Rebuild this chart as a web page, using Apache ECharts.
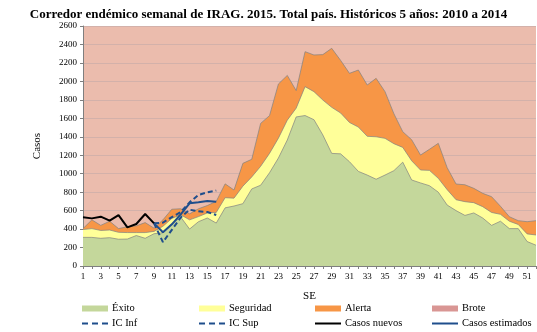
<!DOCTYPE html>
<html>
<head>
<meta charset="utf-8">
<script src="https://cdn.jsdelivr.net/npm/echarts@6/dist/echarts.min.js"></script>
<style>
  html, body { margin: 0; padding: 0; background: #fff; }
  #chart { width: 537px; height: 332px; }
</style>
</head>
<body>
<div id="chart"></div>
<script>
// Epidemiological weeks (SE)
const weeks = [1,2,3,4,5,6,7,8,9,10,11,12,13,14,15,16,17,18,19,20,21,22,23,24,25,26,
               27,28,29,30,31,32,33,34,35,36,37,38,39,40,41,42,43,44,45,46,47,48,49,50,51,52];

// Corridor bands (upper edge of each zone, cases)
const exito = [310,310,300,307,290,292,330,300,350,360,455,530,400,480,520,465,630,650,675,835,
               875,1010,1170,1365,1615,1630,1585,1420,1220,1215,1130,1025,985,940,985,1033,1125,932,
               900,870,800,660,600,548,575,520,440,485,405,405,265,225];
const seguridad = [395,405,385,390,365,362,362,362,375,430,515,555,500,535,575,580,740,735,865,965,
                   1080,1220,1385,1580,1710,1943,1889,1798,1719,1658,1555,1505,1405,1400,1383,1325,1285,1140,
                   1040,1036,950,827,718,697,686,643,580,560,485,450,348,336];
const alerta = [405,500,440,485,405,425,435,470,410,500,615,620,565,620,655,700,890,823,1112,1156,
                1545,1629,1972,2065,1900,2322,2286,2290,2358,2228,2087,2123,1961,2033,1889,1650,1455,1368,
                1202,1264,1329,1065,888,880,841,787,751,647,534,491,480,491];
const brote = [2600,2600,2600,2600,2600,2600,2600,2600,2600,2600,2600,2600,2600,2600,2600,2600,2600,2600,
               2600,2600,2600,2600,2600,2600,2600,2600,2600,2600,2600,2600,2600,2600,2600,2600,2600,2600,
               2600,2600,2600,2600,2600,2600,2600,2600,2600,2600,2600,2600,2600,2600,2600,2600];

// 2015 observed and estimated cases
const casosNuevos = [527,516,534,491,552,419,455,563,462];
const casosEstimados = [null,null,null,null,null,null,null,null,462,365,451,560,679,690,704,697];
const icInf = [null,null,null,null,null,null,null,null,462,258,392,525,610,592,585,552];
const icSup = [null,null,null,null,null,null,null,null,462,470,530,585,690,770,798,818];

const yTicks = { min: 0, max: 2600, interval: 200 };

const C = {
  exito: '#c4d79b', seguridad: '#ffff99', alerta: '#f79646',
  brote: '#ebbcad', broteKey: '#d99694', navy: '#1f4e8c', edge: 'rgba(130,130,130,0.7)'
};
const serif = '"Liberation Serif", "DejaVu Serif", serif';

function band(name, data, color, z) {
  return {
    name, type: 'line', data, symbol: 'none', z,
    itemStyle: { color },
    lineStyle: { color: C.edge, width: 1 },
    areaStyle: { color, opacity: 1 },
    emphasis: { disabled: true }
  };
}
function trend(name, data, color, dashed) {
  return {
    name, type: 'line', data, symbol: 'none', z: 10, connectNulls: false,
    itemStyle: { color },
    lineStyle: { color, width: 2, type: dashed ? [5, 3] : 'solid' },
    emphasis: { disabled: true }
  };
}

// Legend glyphs: filled band swatch, solid stroke, dashed stroke
const SOLID = 'path://M0,0H26V2H0Z';
const DASHED = 'path://M0,0H6V2H0Z M10,0H16V2H10Z M20,0H26V2H20Z';

// One legend block per entry, laid out on a 4 x 2 grid
function key(item, left, top, h) {
  return {
    data: [item], left, top, itemWidth: 26, itemHeight: h, selectedMode: false,
    padding: 0, itemGap: 4,
    textStyle: { fontFamily: serif, fontSize: 10.5, color: '#000', padding: [0, 0, 0, -1] }
  };
}
const swatch = (name, color) => ({ name, icon: 'rect', itemStyle: { color, borderWidth: 0 } });
const stroke = (name, color, icon) => ({ name, icon, itemStyle: { color, borderWidth: 0 } });

const chart = echarts.init(document.getElementById('chart'), null, { renderer: 'canvas' });
chart.setOption({
  animation: false,
  backgroundColor: '#fff',
  title: {
    text: 'Corredor endémico semanal de IRAG. 2015. Total país. Históricos 5 años: 2010 a 2014',
    left: 'center', top: 3,
    textStyle: { fontFamily: serif, fontSize: 13, fontWeight: 'bold', color: '#000' }
  },
  grid: { left: 83, right: 1, top: 26, bottom: 66, containLabel: false },
  legend: [
    key(swatch('Éxito', C.exito), 82, 303, 6),
    key(swatch('Seguridad', C.seguridad), 199, 303, 6),
    key(swatch('Alerta', C.alerta), 315, 303, 6),
    key(swatch('Brote', C.broteKey), 432, 303, 6),
    key(stroke('IC Inf', C.navy, DASHED), 82, 318, 2),
    key(stroke('IC Sup', C.navy, DASHED), 199, 318, 2),
    key(stroke('Casos nuevos', '#000', SOLID), 315, 318, 2),
    key(stroke('Casos estimados', C.navy, SOLID), 432, 318, 2)
  ],
  xAxis: {
    type: 'category', data: weeks, boundaryGap: false,
    name: 'SE', nameLocation: 'middle', nameGap: 25,
    nameTextStyle: { fontFamily: serif, fontSize: 11, color: '#000' },
    axisLine: { lineStyle: { color: '#7f7f7f', width: 1 } },
    axisTick: { interval: 0, length: 3, lineStyle: { color: '#7f7f7f' } },
    axisLabel: { interval: 1, fontFamily: serif, fontSize: 9, color: '#000', margin: 6 },
    splitLine: { show: false }
  },
  yAxis: {
    type: 'value', min: yTicks.min, max: yTicks.max, interval: yTicks.interval,
    name: 'Casos', nameLocation: 'middle', nameGap: 40,
    nameTextStyle: { fontFamily: serif, fontSize: 11, color: '#000' },
    axisLine: { show: true, lineStyle: { color: '#7f7f7f', width: 1 } },
    axisTick: { show: true, length: 3, lineStyle: { color: '#7f7f7f' } },
    axisLabel: { fontFamily: serif, fontSize: 9, color: '#000', margin: 6, formatter: (v) => String(v) },
    splitLine: { show: true, lineStyle: { color: '#d3b1aa', width: 1 } }
  },
  series: [
    Object.assign(band('Brote', brote, C.brote, -1), { lineStyle: { width: 0 }, itemStyle: { color: C.broteKey } }),
    band('Alerta', alerta, C.alerta, 2),
    band('Seguridad', seguridad, C.seguridad, 3),
    band('Éxito', exito, C.exito, 4),
    trend('IC Inf', icInf, C.navy, true),
    trend('IC Sup', icSup, C.navy, true),
    trend('Casos nuevos', casosNuevos, '#000', false),
    trend('Casos estimados', casosEstimados, C.navy, false)
  ]
});
</script>
</body>
</html>
